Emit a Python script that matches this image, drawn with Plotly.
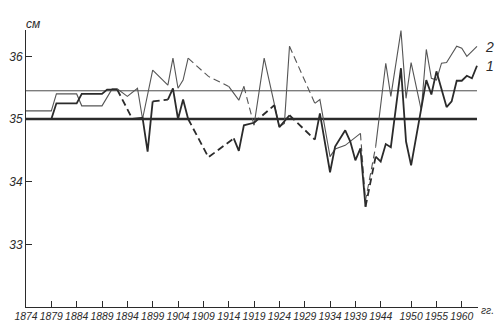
import plotly.graph_objects as go

# ---- data (cm, by year) ----
years1 = [1874, 1879, 1880, 1884, 1885, 1889, 1890, 1892, 1895, 1897, 1898, 1899, 1902, 1903,
          1904, 1905, 1906, 1910, 1915, 1916, 1917, 1919, 1923, 1924, 1926, 1931, 1932, 1934,
          1935, 1937, 1938, 1939, 1940, 1941, 1943, 1944, 1945, 1946, 1948, 1949, 1950, 1952,
          1953, 1954, 1955, 1957, 1958, 1959, 1960, 1961, 1962, 1963]
series1 = [35.0, 35.0, 35.25, 35.25, 35.4, 35.4, 35.47, 35.47, 35.0, 35.02, 34.48, 35.28, 35.31, 35.49,
           35.0, 35.31, 35.0, 34.39, 34.69, 34.49, 34.9, 34.94, 35.22, 34.87, 35.06, 34.67, 35.09, 34.15,
           34.56, 34.82, 34.64, 34.34, 34.53, 33.6, 34.4, 34.32, 34.6, 34.55, 35.81, 34.64, 34.26, 35.14,
           35.62, 35.39, 35.76, 35.19, 35.28, 35.61, 35.61, 35.69, 35.65, 35.85]
gaps1 = [(1892, 1895), (1899, 1902), (1906, 1910), (1910, 1915), (1919, 1923), (1926, 1931), (1941, 1943)]

years2 = [1874, 1879, 1880, 1884, 1885, 1889, 1891, 1892, 1894, 1896, 1897, 1899, 1902, 1903,
          1904, 1905, 1906, 1910, 1914, 1916, 1917, 1919, 1921, 1924, 1925, 1926, 1931, 1932,
          1934, 1935, 1937, 1940, 1941, 1943, 1945, 1946, 1948, 1949, 1950, 1952, 1953, 1954,
          1955, 1956, 1957, 1959, 1960, 1961, 1963]
series2 = [35.13, 35.13, 35.4, 35.4, 35.21, 35.21, 35.48, 35.48, 35.36, 35.49, 35.0, 35.78, 35.54, 35.97,
           35.49, 35.62, 35.97, 35.68, 35.52, 35.3, 35.52, 34.9, 35.97, 34.88, 34.93, 36.16, 35.25, 35.31,
           34.4, 34.52, 34.58, 34.77, 33.7, 34.56, 35.89, 35.36, 36.41, 35.33, 35.9, 35.14, 36.11, 35.65,
           35.62, 35.89, 35.9, 36.16, 36.13, 36.0, 36.16]
gaps2 = [(1906, 1910), (1910, 1914), (1917, 1919), (1926, 1931), (1940, 1941), (1941, 1943)]

mean_levels = [35.0, 35.45]
level_span = [1874, 1963]

x_ticks = [1874, 1879, 1884, 1889, 1894, 1899, 1904, 1909, 1914, 1919, 1924, 1929, 1934, 1939,
           1944, 1950, 1955, 1960]
y_ticks = [33, 34, 35, 36]


def split_runs(xs, ys, gaps):
    solid = ([], [])
    dashed = ([], [])
    for i in range(len(xs) - 1):
        tgt = dashed if (xs[i], xs[i + 1]) in gaps else solid
        if tgt[0] and tgt[0][-1] == xs[i]:
            tgt[0].append(xs[i + 1]); tgt[1].append(ys[i + 1])
        else:
            if tgt[0]:
                tgt[0].append(None); tgt[1].append(None)
            tgt[0].extend([xs[i], xs[i + 1]]); tgt[1].extend([ys[i], ys[i + 1]])
    return solid, dashed


INK = "#2b2b2b"
FONT = "Liberation Sans Narrow, Liberation Sans, Arial"

fig = go.Figure()

# mean levels
fig.add_trace(go.Scatter(x=level_span, y=[mean_levels[0]] * 2, mode="lines",
                         line=dict(color=INK, width=2.5), showlegend=False, hoverinfo="skip"))
fig.add_trace(go.Scatter(x=level_span, y=[mean_levels[1]] * 2, mode="lines",
                         line=dict(color="#4a4a4a", width=1), showlegend=False, hoverinfo="skip"))

s2_solid, s2_dash = split_runs(years2, series2, gaps2)
fig.add_trace(go.Scatter(x=s2_solid[0], y=s2_solid[1], mode="lines",
                         line=dict(color="#555555", width=1.1), showlegend=False))
fig.add_trace(go.Scatter(x=s2_dash[0], y=s2_dash[1], mode="lines",
                         line=dict(color="#555555", width=1.1, dash="7px,4px"), showlegend=False))

s1_solid, s1_dash = split_runs(years1, series1, gaps1)
fig.add_trace(go.Scatter(x=s1_solid[0], y=s1_solid[1], mode="lines",
                         line=dict(color=INK, width=1.8), showlegend=False))
fig.add_trace(go.Scatter(x=s1_dash[0], y=s1_dash[1], mode="lines",
                         line=dict(color=INK, width=1.8, dash="7px,4px"), showlegend=False))

fig.update_xaxes(range=[1874, 1963.2], tickvals=x_ticks, ticktext=[str(t) for t in x_ticks],
                 tickangle=0, ticks="inside", ticklen=6, tickcolor=INK, tickwidth=1,
                 showline=True, linecolor=INK, linewidth=1, showgrid=False, zeroline=False,
                 automargin=False, tickfont=dict(family=FONT, size=10.4, color=INK, style="italic"))
fig.update_yaxes(range=[32, 36.42], tickvals=y_ticks, ticktext=[str(t) for t in y_ticks],
                 ticks="inside", ticklen=6, tickcolor=INK, tickwidth=1,
                 showline=True, linecolor=INK, linewidth=1, showgrid=False, zeroline=False,
                 automargin=False, tickfont=dict(family=FONT, size=12, color=INK, style="italic"))

ann_font = dict(family=FONT, size=14, color=INK, style="italic")
fig.add_annotation(x=1.04, y=0.975, xref="paper", yref="paper", text="2", showarrow=False, font=ann_font)
fig.add_annotation(x=1.04, y=0.905, xref="paper", yref="paper", text="1", showarrow=False, font=ann_font)
fig.add_annotation(x=-0.005, y=1.055, xref="paper", yref="paper", text="см", showarrow=False,
                   font=dict(family=FONT, size=12, color=INK, style="italic"))
fig.add_annotation(x=1.04, y=-0.04, xref="paper", yref="paper", text="гг.", showarrow=False,
                   font=dict(family=FONT, size=10.4, color=INK, style="italic"))

fig.update_layout(width=500, height=334, margin=dict(l=26, r=22, t=30, b=27),
                  paper_bgcolor="white", plot_bgcolor="white", showlegend=False)

fig.write_html("out.html")
